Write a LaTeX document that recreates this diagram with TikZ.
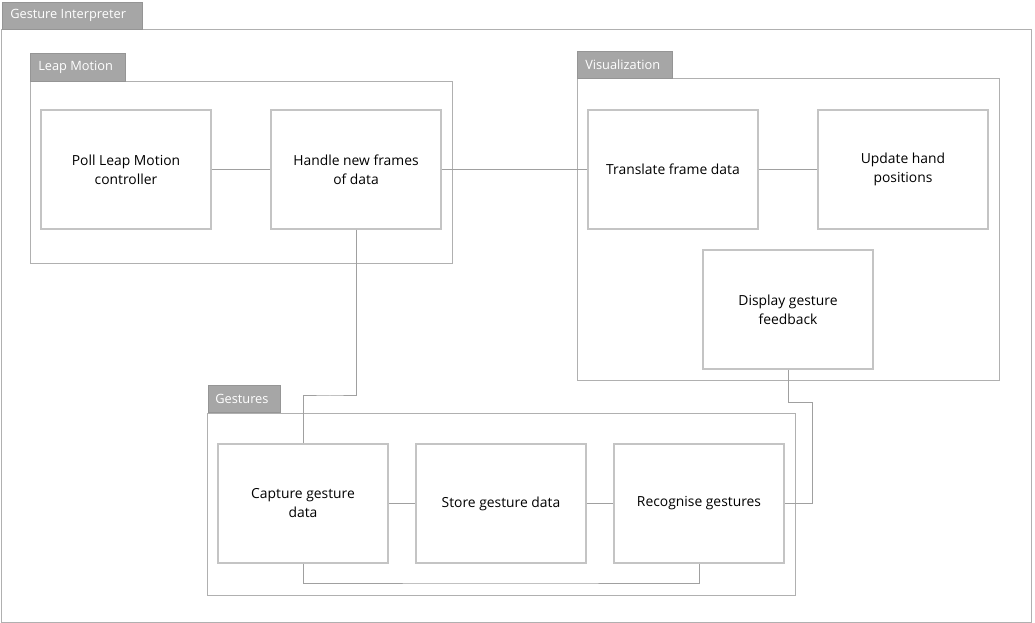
\documentclass[tikz,border=0pt]{standalone}
\usepackage{fontspec}
\setmainfont{Open Sans}
\definecolor{tabfill}{HTML}{A6A6A6}
\definecolor{grpline}{HTML}{B0B0B0}
\definecolor{boxline}{HTML}{C4C4C4}
\definecolor{connline}{HTML}{A0A0A0}
\definecolor{txt}{HTML}{000000}
\begin{document}
\begin{tikzpicture}[x=0.75pt,y=-0.75pt,
  grp/.style={draw=grpline,line width=0.9pt,fill=white,rectangle,anchor=north west,inner sep=0pt},
  tab/.style={fill=tabfill,draw=tabfill!90!black,line width=0.4pt,rectangle,anchor=north west,inner sep=0pt},
  tablbl/.style={anchor=west,text=white,font=\fontsize{9.6pt}{11pt}\selectfont,inner sep=0pt},
  task/.style={draw=boxline,line width=1.1pt,fill=white,rectangle,inner sep=0pt,
    minimum width=127.5pt,minimum height=89.25pt,align=center,text=txt,
    font=\fontsize{10.4pt}{14.2pt}\selectfont},
  conn/.style={draw=connline,line width=0.75pt}]
\useasboundingbox (0,0) rectangle (1035,623);
% outer group
\node[grp,minimum width=772.5pt,minimum height=444.75pt] (outer) at (1,29) {};
\node[tab,minimum width=105pt,minimum height=20.25pt] (outertab) at (2,2) {};
\node[tablbl] (outerlbl) at (10,15.5) {Gesture Interpreter};
% Leap Motion group
\node[grp,minimum width=316.5pt,minimum height=136.5pt] (leap) at (30,81) {};
\node[tab,minimum width=71.25pt,minimum height=21pt] (leaptab) at (30,53) {};
\node[tablbl] (leaplbl) at (38,67) {Leap Motion};
% Visualization group
\node[grp,minimum width=316.5pt,minimum height=226.5pt] (vis) at (577,78) {};
\node[tab,minimum width=71.25pt,minimum height=20.25pt] (vistab) at (577,51) {};
\node[tablbl] (vislbl) at (585,64.5) {Visualization};
% Gestures group
\node[grp,minimum width=441pt,minimum height=136.5pt] (ges) at (207,413) {};
\node[tab,minimum width=54pt,minimum height=20.25pt] (gestab) at (208,385) {};
\node[tablbl] (geslbl) at (215,399) {Gestures};
% tasks
\node[task] (poll) at (126,169.5) {Poll Leap Motion\\controller};
\node[task] (handle) at (356,169.5) {Handle new frames\\of data};
\node[task] (trans) at (673,169.5) {Translate frame data};
\node[task] (upd) at (903,169.5) {Update hand\\positions};
\node[task] (disp) at (788,309.5) {Display gesture\\feedback};
\node[task] (capt) at (303,503.5) {Capture gesture\\data};
\node[task] (store) at (501,503.5) {Store gesture data};
\node[task] (recog) at (699,503.5) {Recognise gestures};
% connectors
\coordinate (j1) at (330,396);
\coordinate (j2) at (812,403);
\coordinate (j3) at (500,583);
\draw[conn] (poll.east) -- (handle.west);
\draw[conn] (handle.east) -- (trans.west);
\draw[conn] (trans.east) -- (upd.west);
\draw[conn] (handle.south) |- (j1) -| (capt.north);
\draw[conn] (disp.south) |- (j2) |- (recog.east);
\draw[conn] (capt.south) |- (j3) -| (recog.south);
\draw[conn] (capt.east) -- (store.west);
\draw[conn] (store.east) -- (recog.west);
\end{tikzpicture}
\end{document}
